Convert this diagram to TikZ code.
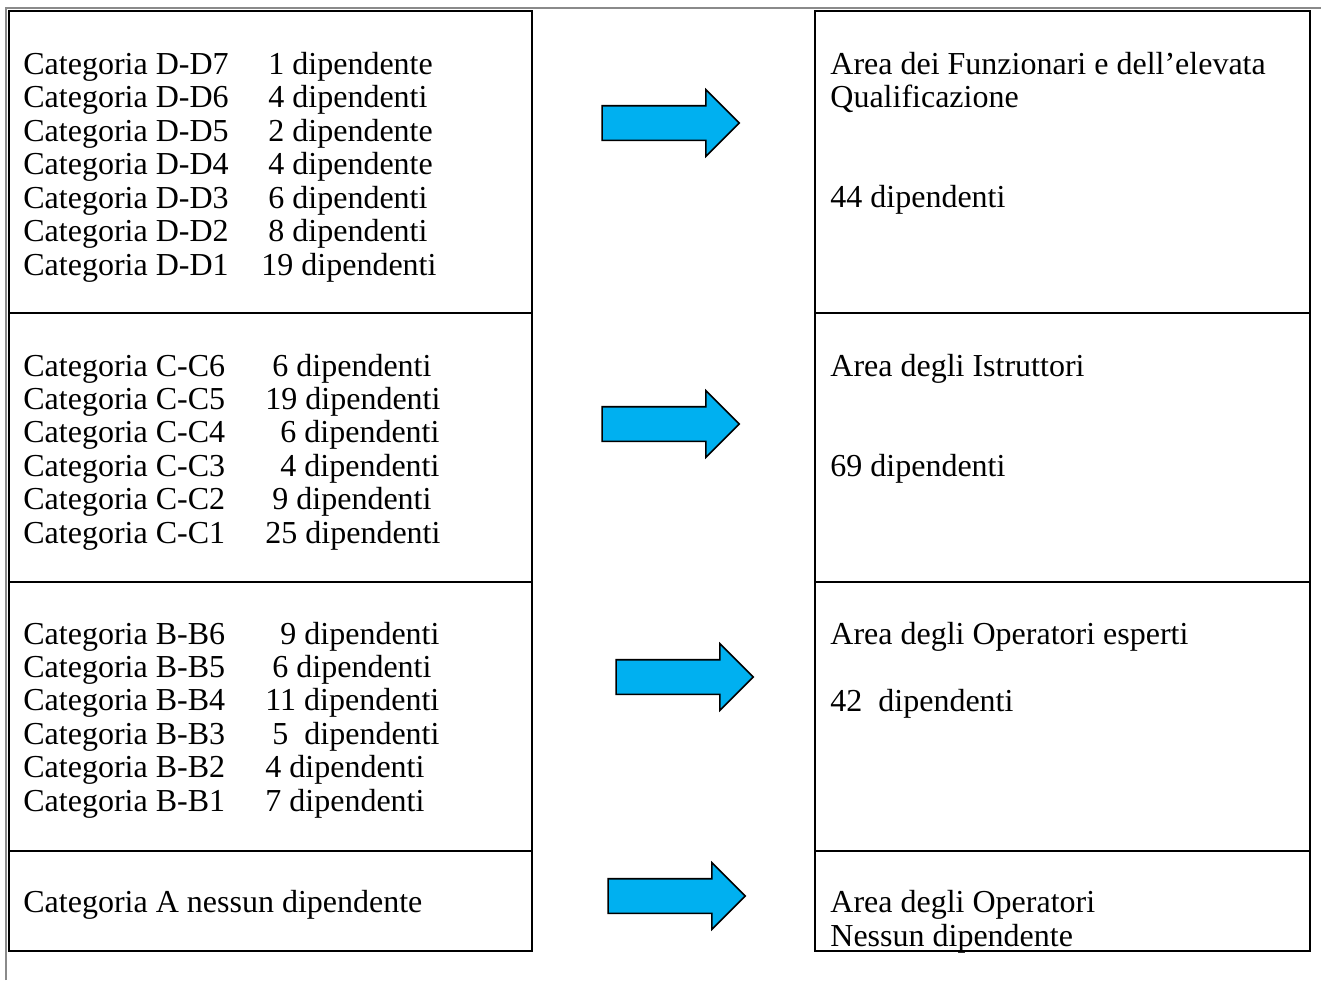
\documentclass[tikz,border=0pt]{standalone}
\usepackage{fontspec}
\setmainfont{Liberation Serif}
\usetikzlibrary{shapes.arrows,positioning}
\definecolor{frecc}{HTML}{00B0F0}
\definecolor{cornice}{HTML}{8A8A8A}
\tikzset{
  cella/.style={draw=black, line width=1.3pt},
  bordo/.style={draw=cornice, line width=0.7pt},
  voce/.style={anchor=base west, inner sep=0pt, font=\fontsize{16}{19}\selectfont},
  freccia/.style={single arrow, draw=black, fill=frecc, line width=0.8pt,
                  minimum height=68.5pt, minimum width=32.5pt,
                  inner xsep=0pt, inner ysep=8.25pt,
                  single arrow head extend=8pt, single arrow head indent=0pt}
}
\begin{document}
\begin{tikzpicture}[x=0.5pt,y=-0.5pt]
  \useasboundingbox (0,0) rectangle (1321,980);
  % cornice esterna
  \draw[bordo] (6,980) -- (6,8) -- (1321,8);
  % caselle di sinistra e di destra
  \foreach \ya/\yb in {11/313,313/582,582/851,851/951} {
    \draw[cella] (9,\ya) rectangle (532,\yb);
    \draw[cella] (815,\ya) rectangle (1310,\yb);
  }
  % categorie D
  \foreach \nome/\num/\xn [count=\i] in {D-D7/1 dipendente/268,D-D6/4 dipendenti/268,
      D-D5/2 dipendente/268,D-D4/4 dipendente/268,D-D3/6 dipendenti/268,
      D-D2/8 dipendenti/268,D-D1/19 dipendenti/261} {
    \node[voce] (d\i) at (23,{74+33.5*(\i-1)}) {Categoria \nome};
    \node[voce] (dn\i) at (\xn,{74+33.5*(\i-1)}) {\num};
  }
  % categorie C
  \foreach \nome/\num/\xn [count=\i] in {C-C6/6 dipendenti/272,C-C5/19 dipendenti/265,
      C-C4/6 dipendenti/280,C-C3/4 dipendenti/280,C-C2/9 dipendenti/272,
      C-C1/25 dipendenti/265} {
    \node[voce] (c\i) at (23,{376+33.4*(\i-1)}) {Categoria \nome};
    \node[voce] (cn\i) at (\xn,{376+33.4*(\i-1)}) {\num};
  }
  % categorie B
  \foreach \nome/\num/\xn [count=\i] in {B-B6/9 dipendenti/280,B-B5/6 dipendenti/272,
      B-B4/11 dipendenti/265,B-B3/5~~dipendenti/272,B-B2/4 dipendenti/265,
      B-B1/7 dipendenti/265} {
    \node[voce] (b\i) at (23,{644+33.4*(\i-1)}) {Categoria \nome};
    \node[voce] (bn\i) at (\xn,{644+33.4*(\i-1)}) {\num};
  }
  \node[voce] (a1) at (23,912) {Categoria A nessun dipendente};
  % aree
  \node[voce] (f1) at (830,74) {Area dei Funzionari e dell’elevata};
  \node[voce] (f2) at (830,107.5) {Qualificazione};
  \node[voce] (fn) at (830,207.5) {44 dipendenti};
  \node[voce] (i1) at (830,376) {Area degli Istruttori};
  \node[voce] (in) at (830,476) {69 dipendenti};
  \node[voce] (e1) at (830,644) {Area degli Operatori esperti};
  \node[voce] (en) at (830,711) {42~~dipendenti};
  \node[voce] (o1) at (830,912) {Area degli Operatori};
  \node[voce] (o2) at (830,946) {Nessun dipendente};
  % frecce
  \node[freccia] (fr1) at (662,123) {};
  \node[freccia] (fr2) at (662,424) {};
  \node[freccia] (fr3) at (676,677) {};
  \node[freccia] (fr4) at (668,896) {};
\end{tikzpicture}
\end{document}
